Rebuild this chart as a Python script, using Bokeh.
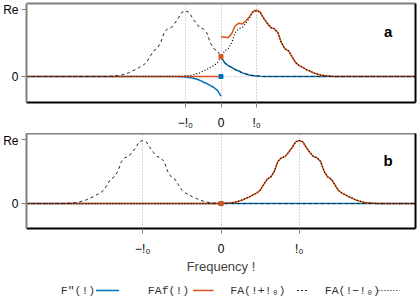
from bokeh.plotting import figure
from bokeh.models import FixedTicker, LinearAxis, Label, Range1d, CustomJSTickFormatter
from bokeh.layouts import column
from bokeh.core.properties import value
from bokeh.embed import file_html
from bokeh.resources import INLINE

FA_LEVELS = [0.0, 0.003, 0.008, 0.013, 0.02, 0.035, 0.05, 0.075, 0.095, 0.125, 0.15,
             0.19, 0.27, 0.35, 0.38, 0.46, 0.60, 0.655, 0.67, 0.73, 0.80, 0.88,
             0.90,
             0.88, 0.80, 0.73, 0.67, 0.655, 0.60, 0.46, 0.38, 0.35, 0.27, 0.19,
             0.15, 0.125, 0.095, 0.075, 0.05, 0.035, 0.02, 0.013, 0.008, 0.003, 0.0]
FA_HALF = 22                 # index of the peak
OMEGA0 = [10, 22]            # carrier frequency of panel a and b (tenths)
X_LIMIT = 54.7               # half width of frequency axis (tenths)
Y_MIN, Y_MAX = -0.356, 1.0
Y_TICKS = [0, 0.915]
TICK_TEXT = ["\u2212!\u2080", "0", "!\u2080"]
PANEL_TAGS = ["a", "b"]
Y_TICK_TEXT = "0"
Y_TOP_TEXT = "Re"
X_LABEL = "Frequency !"
LEGEND_LABELS = ['F"(!)', 'FAf(!)', 'FA(!+!\u2080)', 'FA(!\u2212!\u2080)']

BLUE = "#0072BD"
ORANGE = "#D95319"
GRAY = "#808080"
SANS = "Liberation Sans"
MONO = "Liberation Mono"


def fa(k):
    i = k + FA_HALF
    return FA_LEVELS[i] if 0 <= i < len(FA_LEVELS) else 0.0


def make_panel(idx, height, top, bottom, with_label):
    w0 = OMEGA0[idx]
    p = figure(width=420, height=height,
               x_range=Range1d(-X_LIMIT, X_LIMIT), y_range=Range1d(Y_MIN, Y_MAX),
               output_backend="svg", toolbar_location=None,
               min_border_left=21, min_border_right=5, min_border_top=top,
               min_border_bottom=bottom)
    p.outline_line_color = None

    xa = p.xaxis[0]
    xa.ticker = FixedTicker(ticks=[-w0, 0, w0])
    xa.major_label_overrides = {-w0: TICK_TEXT[0], 0: TICK_TEXT[1], w0: TICK_TEXT[2]}
    xa.major_tick_out = 5
    xa.major_tick_in = 0
    xa.minor_tick_out = 0
    xa.minor_tick_in = 0
    xa.major_tick_line_color = GRAY
    xa.axis_line_color = "black"
    xa.axis_line_width = 2
    xa.major_label_standoff = 8
    xa.major_label_text_font = SANS
    xa.major_label_text_font_size = "12px"
    xa.major_label_text_color = "black"
    if with_label:
        xa.axis_label = X_LABEL
        xa.axis_label_text_font = SANS
        xa.axis_label_text_font_size = "13px"
        xa.axis_label_text_font_style = "normal"
        xa.axis_label_standoff = 0

    ya = p.yaxis[0]
    ya.ticker = FixedTicker(ticks=Y_TICKS)
    ya.formatter = CustomJSTickFormatter(
        args=dict(zero=Y_TICK_TEXT, top=Y_TOP_TEXT),
        code="return Math.abs(tick) < 1e-9 ? zero : top;")
    ya.major_tick_out = 5
    ya.major_tick_in = 0
    ya.minor_tick_out = 0
    ya.minor_tick_in = 0
    ya.major_tick_line_color = GRAY
    ya.axis_line_color = GRAY
    ya.axis_line_width = 2
    ya.major_label_standoff = 3
    ya.major_label_text_font = SANS
    ya.major_label_text_font_size = "12px"
    ya.major_label_text_color = "black"

    for loc, col in (("right", "black"), ("above", GRAY)):
        ax = LinearAxis(ticker=FixedTicker(ticks=[]), major_tick_out=0, major_tick_in=0,
                        minor_tick_out=0, minor_tick_in=0, major_label_standoff=0,
                        major_label_text_font_size="0px",
                        axis_line_color=col, axis_line_width=2)
        p.add_layout(ax, loc)

    p.xgrid.grid_line_color = "#b0b0b0"
    p.xgrid.grid_line_dash = "1 2"
    p.ygrid.ticker = FixedTicker(ticks=[0])
    p.ygrid.grid_line_color = "#b0b0b0"
    p.ygrid.grid_line_dash = "1 2"

    ks = list(range(-55, 56))
    kneg = [k for k in ks if k <= 0]
    kpos = [k for k in ks if k >= 0]

    # blue F"
    p.line(kneg, [-fa(k - w0) for k in kneg], line_color=BLUE, line_width=1.5)
    p.line(kpos, [fa(k + w0) for k in kpos], line_color=BLUE, line_width=1.5)
    # orange FAf
    p.line(kneg, [0.0 for k in kneg], line_color=ORANGE, line_width=1.5)
    p.line(kpos, [fa(k - w0) + fa(k + w0) for k in kpos],
           line_color=ORANGE, line_width=1.5)
    # black dashed FA(w+w0), dotted FA(w-w0)
    p.line(ks, [fa(k + w0) for k in ks], line_color="#222222", line_width=1,
           line_dash="3 3")
    p.line(ks, [fa(k - w0) for k in ks], line_color="black", line_width=1.2,
           line_dash="1 2")
    # values at zero
    p.scatter([0], [0.0], size=4, marker="square", color=BLUE)
    p.scatter([0], [fa(-w0)], size=4, marker="square", color=ORANGE)

    p.add_layout(Label(x=47, y=0.62, text=PANEL_TAGS[idx], text_align="center",
                       text_baseline="middle", text_font=SANS, text_color="black",
                       text_font_size="15px", text_font_style="bold"))
    return p


p1 = make_panel(0, 133, 3, 31, False)
p2 = make_panel(1, 143, 0, 44, True)

lg = figure(width=420, height=24, x_range=Range1d(0, 420), y_range=Range1d(0, 24),
            output_backend="svg", toolbar_location=None, min_border=0,
            x_axis_location=None, y_axis_location=None)
lg.outline_line_color = None
lg.grid.visible = False
lg.text(x=[37, 131, 220, 322], y=[10, 10, 10, 10], text=LEGEND_LABELS,
        text_font=value(MONO), text_font_size="11.5px", text_baseline="middle",
        text_align="left", text_color="#333333")
lg.line([75, 100], [10, 10], line_color=BLUE, line_width=1.5)
lg.line([180, 202], [10, 10], line_color=ORANGE, line_width=1.5)
lg.line([292, 303], [10, 10], line_color="#222222", line_width=1, line_dash="2 2")
lg.line([380, 403], [10, 10], line_color="black", line_width=1.2, line_dash="1 2")

layout = column(p1, p2, lg)
open("out.html", "w").write(file_html(layout, INLINE))
